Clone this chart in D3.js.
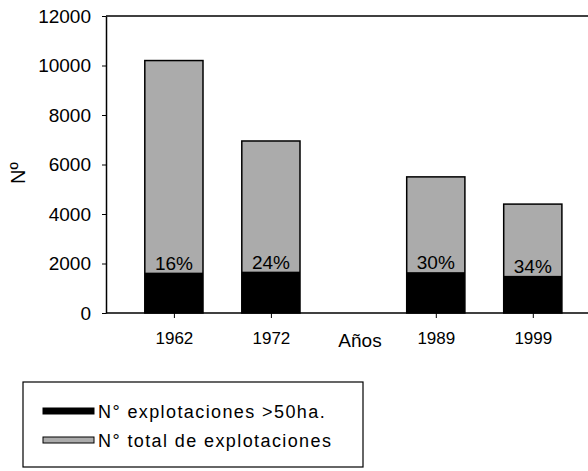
<!DOCTYPE html>
<html lang="es">
  <head>
    <meta charset="UTF-8">
    <title>Explotaciones</title>
    <style>
      html,body{
        background-color: #fff;
        margin: 0;
        padding: 0;
      }
      svg text{
        font-family: "Liberation Sans", Arial, sans-serif;
        fill: #000;
      }
    </style>
  </head>
  <body>
    <div id="chart"></div>
    <script src="https://d3js.org/d3.v7.min.js"></script>
    <script>
      // datos
      var anios = [1962, 1972, 1989, 1999];
      var totalExplot = [10200, 6950, 5500, 4400];
      var grandesExplot = [1630, 1670, 1650, 1500];
      var porcentajes = ["16%", "24%", "30%", "34%"];
      var yTicks = [0, 2000, 4000, 6000, 8000, 10000, 12000];
      var leyenda = ["N\u00b0 explotaciones >50ha.", "N\u00b0 total de explotaciones"];

      var ancho = 588, alto = 471;
      var gris = "#ababab";

      var svg = d3.select("#chart").append("svg")
        .attr("width", ancho)
        .attr("height", alto);

      var x = d3.scaleLinear().domain([1955, 2005]).range([106, 591]);
      var y = d3.scaleLinear().domain([0, 12000]).range([313, 16]);
      var anchoBarra = x(1962 + 6) - x(1962);

      // marco superior
      svg.append("line")
        .attr("x1", x(1955)).attr("x2", ancho)
        .attr("y1", y(12000)).attr("y2", y(12000))
        .attr("stroke", "#000").attr("stroke-width", 1.5);

      // barras total
      svg.selectAll(".total").data(anios).enter().append("rect")
        .attr("class", "total")
        .attr("x", function(d){ return x(d) - anchoBarra/2; })
        .attr("width", anchoBarra)
        .attr("y", function(d,i){ return y(totalExplot[i]); })
        .attr("height", function(d,i){ return y(0) - y(totalExplot[i]); })
        .attr("fill", gris)
        .attr("stroke", "#000")
        .attr("stroke-width", 1.5);

      // barras >50ha
      svg.selectAll(".grande").data(anios).enter().append("rect")
        .attr("class", "grande")
        .attr("x", function(d){ return x(d) - anchoBarra/2; })
        .attr("width", anchoBarra)
        .attr("y", function(d,i){ return y(grandesExplot[i]); })
        .attr("height", function(d,i){ return y(0) - y(grandesExplot[i]); })
        .attr("fill", "#000");

      // porcentajes
      svg.selectAll(".pct").data(anios).enter().append("text")
        .attr("class", "pct")
        .attr("x", function(d){ return x(d); })
        .attr("y", function(d,i){ return y(grandesExplot[i]) - 3; })
        .attr("text-anchor", "middle")
        .attr("font-size", 19)
        .text(function(d,i){ return porcentajes[i]; });

      // eje Y
      var ejeY = svg.append("g")
        .attr("transform", "translate(" + x(1955) + ",0)")
        .call(d3.axisLeft(y).tickValues(yTicks).tickFormat(d3.format("d"))
          .tickSize(4).tickSizeOuter(0).tickPadding(11));
      ejeY.select(".domain").attr("stroke-width", 1.5);
      ejeY.selectAll("text").attr("font-size", 19).attr("font-family", "Liberation Sans, Arial, sans-serif");

      // eje X
      var ejeX = svg.append("g")
        .attr("transform", "translate(0," + y(0) + ")")
        .call(d3.axisBottom(x).tickValues(anios).tickFormat(d3.format("d"))
          .tickSize(5).tickSizeOuter(0).tickPadding(14));
      ejeX.select(".domain").attr("d", "M" + x(1955) + ",0H" + ancho).attr("stroke-width", 1.5);
      ejeX.selectAll("text").attr("font-size", 17).attr("font-family", "Liberation Sans, Arial, sans-serif");

      // titulos
      svg.append("text")
        .attr("x", 360).attr("y", 347)
        .attr("text-anchor", "middle")
        .attr("font-size", 19)
        .text("A\u00f1os");

      svg.append("text")
        .attr("transform", "translate(25,173) rotate(-90)")
        .attr("text-anchor", "middle")
        .attr("font-size", 20)
        .text("N\u00ba");

      // leyenda
      var ley = svg.append("g");
      ley.append("rect")
        .attr("x", 23).attr("y", 382)
        .attr("width", 340).attr("height", 85)
        .attr("fill", "none")
        .attr("stroke", "#000").attr("stroke-width", 1.2);

      var colores = ["#000", gris];
      leyenda.forEach(function(t, i){
        ley.append("rect")
          .attr("x", 43).attr("y", 408 + i*29)
          .attr("width", 51).attr("height", 6)
          .attr("fill", colores[i])
          .attr("stroke", "#000").attr("stroke-width", 1);
        ley.append("text")
          .attr("x", 98).attr("y", 418 + i*29)
          .attr("font-size", 18)
          .attr("letter-spacing", 1.4)
          .text(t);
      });
    </script>
  </body>
</html>
